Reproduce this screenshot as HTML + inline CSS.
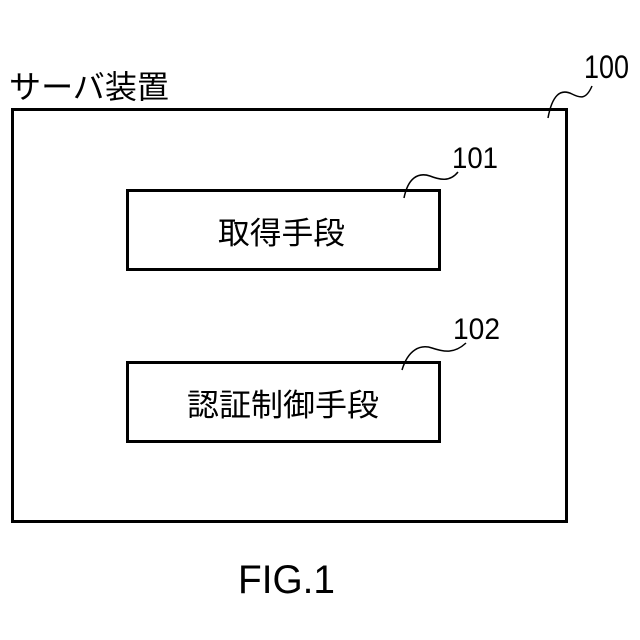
<!DOCTYPE html>
<html><head><meta charset="utf-8"><style>
body{margin:0;background:#fff;}
svg{display:block}
text{font-family:"Liberation Sans","Noto Sans CJK JP",sans-serif;fill:#000}
</style></head><body>
<svg width="640" height="640" viewBox="0 0 640 640" xmlns="http://www.w3.org/2000/svg">
<rect width="640" height="640" fill="#fff"/>
<text x="9" y="98" font-size="32" textLength="160" lengthAdjust="spacingAndGlyphs">サーバ装置</text>
<text x="584" y="78" font-size="32" textLength="45" lengthAdjust="spacingAndGlyphs">100</text>
<rect x="12.5" y="109.5" width="554" height="412" fill="none" stroke="#000" stroke-width="3"/>
<path d="M548 118 C552 96 560 88 572 94 C580 98 586 100 592 86" fill="none" stroke="#000" stroke-width="1.5"/>
<rect x="127.5" y="190.5" width="312" height="79" fill="none" stroke="#000" stroke-width="3"/>
<text x="218" y="244" font-size="31" textLength="127" lengthAdjust="spacingAndGlyphs">取得手段</text>
<text x="452" y="168" font-size="30" textLength="46" lengthAdjust="spacingAndGlyphs">101</text>
<path d="M404 198 C408 178 418 172 430 176 C440 180 450 182 458 172" fill="none" stroke="#000" stroke-width="1.5"/>
<rect x="127.5" y="362.5" width="312" height="79" fill="none" stroke="#000" stroke-width="3"/>
<text x="187" y="416" font-size="31" textLength="192" lengthAdjust="spacingAndGlyphs">認証制御手段</text>
<text x="453" y="339" font-size="30" textLength="47" lengthAdjust="spacingAndGlyphs">102</text>
<path d="M402 370 C408 350 420 344 432 348 C444 352 454 354 466 343" fill="none" stroke="#000" stroke-width="1.5"/>
<text x="238" y="593" font-size="40" textLength="97" lengthAdjust="spacingAndGlyphs">FIG.1</text>
</svg>
</body></html>
